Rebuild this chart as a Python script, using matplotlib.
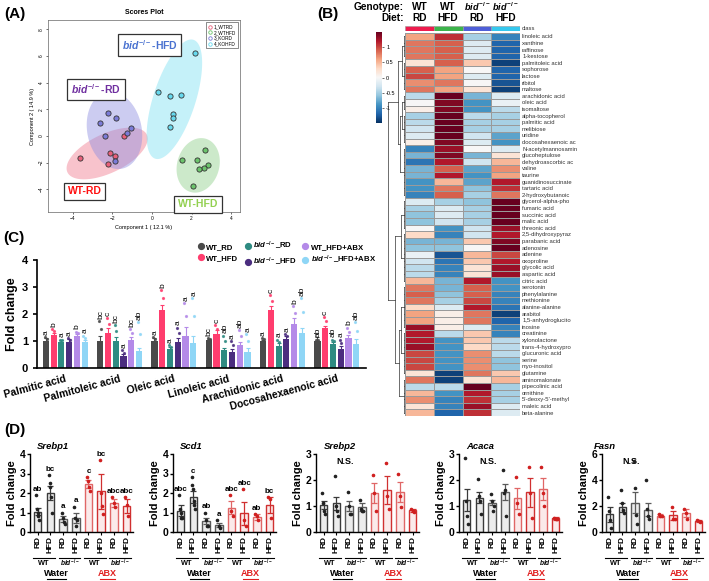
import numpy as np
import matplotlib
matplotlib.use('Agg')
import matplotlib.pyplot as plt
from matplotlib.patches import Polygon
from matplotlib.lines import Line2D
import matplotlib.transforms as mtrans

W, H = 709, 581
plt.rcParams['font.family'] = ['Liberation Sans', 'DejaVu Sans']
plt.rcParams['mathtext.fontset'] = 'custom'
plt.rcParams['mathtext.it'] = 'Liberation Sans:italic:bold'
plt.rcParams['mathtext.rm'] = 'Liberation Sans:bold'
plt.rcParams['mathtext.bf'] = 'Liberation Sans:bold'
BID = r'$\mathit{bid}^{-/-}$'

### (A) PLS-DA scores
wtrd_x = [-3.65, -2.14, -1.85, -2.24, -1.43]
wtrd_y = [-1.68, -1.30, -1.48, -2.10, 0.00]
wthfd_x = [2.68, 1.50, 2.27, 2.81, 2.64, 2.36, 2.10]
wthfd_y = [-1.05, -1.78, -1.78, -2.20, -2.38, -2.48, -3.75]
kord_x = [-2.24, -1.80, -2.60, -1.06, -1.26, -2.39, -1.89]
kord_y = [1.70, 1.38, 1.00, 0.58, 0.20, 0.00, -1.88]
kohfd_x = [2.17, 0.30, 0.93, 1.46, 1.08, 1.09, 0.91]
kohfd_y = [6.25, 3.28, 3.00, 3.08, 1.65, 1.33, 0.70]
score_names = ['1_WTRD', '2_WTHFD', '3_KORD', '4_KOHFD']

### (B) heatmap (z-scores: WT RD, WT HFD, bid RD, bid HFD)
metabolites = ['linoleic acid', 'xanthine', 'raffinose', '1-kestose', 'palmitoleic acid',
               'sophorose', 'lactose', 'ribitol', 'maltose', 'arachidonic acid', 'oleic acid',
               'isomaltose', 'alpha-tocopherol', 'palmitic acid', 'melibiose', 'uridine',
               'docosahexaenoic ac', 'N-acetylmannosamin', 'glucoheptulose', 'dehydroascorbic ac',
               'valine', 'taurine', 'guanidinosuccinate', 'tartaric acid', '2-hydroxybutanoic',
               'glycerol-alpha-pho', 'fumaric acid', 'succinic acid', 'malic acid', 'threonic acid',
               '2,5-dihydroxypyraz', 'parabanic acid', 'adenosine', 'adenine', 'oxoproline',
               'glycolic acid', 'aspartic acid', 'citric acid', 'serotonin', 'phenylalanine',
               'methionine', 'alanine-alanine', 'arabitol', '1,5-anhydroglucito', 'inosine',
               'creatinine', 'xylonolactone', 'trans-4-hydroxypro', 'glucuronic acid', 'serine',
               'myo-inositol', 'glutamine', 'aminomalonate', 'pipecolinic acid', 'ornithine',
               "5'-deoxy-5'-methyl", 'maleic acid', 'beta-alanine']
heat_vals = [
    [0.6, 1.1, -0.5, -1.0], [0.8, 0.9, -0.2, -1.2], [0.8, 0.9, -0.2, -1.2], [0.8, 0.9, -0.2, -1.2],
    [0.2, 0.9, 0.4, -1.4], [0.9, 0.6, 0.0, -1.2], [1.0, 0.6, -0.2, -1.2], [0.7, 0.8, 0.0, -1.3],
    [0.8, 0.6, 0.2, -1.4], [-0.4, 1.5, -0.7, -0.2], [0.0, 1.4, -0.9, -0.1], [0.1, 1.4, -0.9, -0.4],
    [-0.5, 1.5, -0.4, -0.5], [-0.4, 1.5, -0.5, -0.5], [-0.3, 1.5, -0.5, -0.5], [-0.2, 1.5, -0.3, -0.8],
    [0.1, 1.4, -0.2, -0.9], [-1.0, 1.3, 0.0, -0.2], [-0.7, 1.4, -0.7, 0.2], [-1.1, 1.2, -0.3, 0.5],
    [-0.7, 0.9, -0.8, 0.7], [-0.7, 1.2, -0.9, 0.6], [-0.9, 0.5, -0.8, 1.2], [-0.9, 0.8, -0.6, 1.1],
    [-1.0, 0.9, -0.5, 0.8], [-0.2, -0.5, -0.6, 1.5], [-0.5, -0.2, -0.5, 1.5], [-0.6, -0.2, -0.5, 1.5],
    [-0.6, -0.3, -0.5, 1.5], [0.0, -0.9, -0.3, 1.3], [0.3, -1.0, -0.3, 1.2], [-0.7, -0.7, 0.4, 1.4],
    [-0.6, -0.6, 0.0, 1.5], [-0.1, -1.3, 0.5, 1.0], [-0.3, -1.1, 0.4, 1.2], [-0.4, -1.0, 0.2, 1.3],
    [-0.4, -1.0, 0.2, 1.3], [0.5, -0.7, 1.2, -0.9], [0.8, -0.7, 0.9, -0.9], [0.9, -0.6, 0.9, -1.0],
    [0.8, -0.5, 1.0, -1.0], [0.3, -0.2, 1.2, -1.1], [0.6, 0.1, 0.8, -1.4], [0.6, 0.1, 0.8, -1.2],
    [1.3, 0.1, -0.2, -1.0], [1.2, -0.4, 0.4, -1.0], [1.2, -0.9, 0.4, -0.4], [1.3, -0.9, 0.3, -0.4],
    [1.0, -0.9, 0.7, -0.4], [1.0, -0.9, 0.7, -0.6], [1.0, -0.9, 0.7, -0.6], [0.2, -1.4, 0.8, 0.4],
    [0.8, -1.4, 0.2, 0.5], [-0.4, -0.4, 1.5, -0.5], [0.5, -0.9, 1.2, -0.5], [0.7, -1.0, 1.1, -0.5],
    [0.2, -1.0, 1.3, -0.2], [0.5, -1.2, 1.1, -0.2]]
class_colors = ['#ee1c4e', '#3cb44b', '#4f5fd8', '#35c8ee']
genotype_lbl = ['WT', 'WT', BID, BID]
diet_lbl = ['RD', 'HFD', 'RD', 'HFD']
# row clusters (first row, last row) and how they join
leaf_clusters = [(0, 3), (4, 8), (9, 11), (12, 16), (17, 24), (25, 29), (30, 37), (38, 44), (45, 51), (52, 57)]
dendro_tree = (((0, 1, 2.5), ((2, 3, 2.5), 4, 4), 6), ((5, 6, 3), ((7, 8, 3), 9, 4.5), 8), 14)

### (C) fatty acids
acids = ['Palmitic acid', 'Palmitoleic acid', 'Oleic acid', 'Linoleic acid',
         'Arachidonic acid', 'Docosahexaenoic acid']
fa_groups = ['WT_RD', 'WT_HFD', BID + '_RD', BID + '_HFD', 'WT_HFD+ABX', BID + '_HFD+ABX']
fa_colors = ['#4a4a4a', '#ff3d6e', '#2e8b82', '#4b2d7f', '#b48ae8', '#8fd6f6']
fa_mean = [[1.00, 1.22, 0.98, 0.98, 1.18, 0.95],
           [1.00, 1.30, 1.00, 0.45, 1.02, 0.63],
           [1.00, 2.15, 0.70, 0.97, 1.18, 0.92],
           [1.02, 1.25, 0.68, 0.60, 0.85, 0.58],
           [1.00, 2.15, 0.83, 1.07, 1.62, 1.30],
           [1.00, 1.47, 0.88, 0.72, 1.10, 0.88]]
fa_sem = [[0.10, 0.08, 0.05, 0.08, 0.07, 0.08],
          [0.20, 0.20, 0.13, 0.08, 0.12, 0.12],
          [0.10, 0.20, 0.07, 0.15, 0.35, 0.25],
          [0.05, 0.15, 0.07, 0.10, 0.12, 0.15],
          [0.05, 0.15, 0.08, 0.10, 0.25, 0.20],
          [0.15, 0.10, 0.07, 0.10, 0.12, 0.20]]
fa_max = [[1.15, 1.45, 1.05, 1.10, 1.35, 1.20],
          [1.75, 1.85, 1.60, 0.65, 1.45, 1.70],
          [1.15, 2.90, 0.85, 1.50, 2.40, 2.60],
          [1.10, 1.60, 1.20, 1.00, 1.40, 1.25],
          [1.10, 2.70, 1.05, 1.25, 2.30, 2.60],
          [1.05, 1.90, 1.05, 1.05, 1.50, 1.70]]
fa_letters = [['a', 'b', 'a', 'a', 'b', 'a'],
              ['bc', 'c', 'bc', 'a', 'bc', 'ab'],
              ['a', 'b', 'a', 'a', 'a', 'a'],
              ['bc', 'c', 'ab', 'a', 'ab', 'a'],
              ['a', 'c', 'a', 'a', 'b', 'ab'],
              ['ab', 'c', 'ab', 'a', 'b', 'ab']]

### (D) hepatic gene expression (Water: WT RD, WT HFD, bid RD, bid HFD | ABX: same)
srebp1_mean = [1.05, 2.0, 0.65, 0.72, 2.45, 2.1, 1.48, 1.32]
srebp1_sem = [0.2, 0.35, 0.15, 0.25, 0.2, 0.9, 0.2, 0.35]
srebp1_pts = [[1.9, 1.2, 1.0, 0.8, 0.6], [2.9, 2.5, 2.3, 1.8, 1.0], [1.0, 0.7, 0.5, 0.4], [1.3, 0.7, 0.3, 0.6],
              [2.8, 2.6, 2.3, 2.1], [3.7, 2.0, 1.35, 0.9], [1.8, 1.5, 1.3], [1.8, 1.4, 0.8]]
srebp1_let = ['ab', 'bc', 'a', 'a', 'c', 'bc', 'abc', 'abc']
scd1_mean = [1.1, 1.8, 0.55, 0.35, 1.25, 0.95, 0.75, 1.38]
scd1_sem = [0.3, 0.3, 0.15, 0.1, 0.35, 0.6, 0.15, 0.4]
scd1_pts = [[1.9, 1.2, 1.0, 0.7, 0.7], [2.8, 2.4, 2.2, 1.6, 1.4, 1.2], [1.0, 0.6, 0.3, 0.3], [0.6, 0.3, 0.2],
            [1.9, 1.1, 0.8], [2.2, 0.6, 0.3], [0.9, 0.8, 0.6], [1.8, 1.7, 0.7]]
scd1_let = ['abc', 'c', 'ab', 'a', 'abc', 'abc', 'ab', 'bc']
srebp2_mean = [1.03, 1.1, 1.0, 0.95, 1.5, 1.62, 1.53, 0.83]
srebp2_sem = [0.15, 0.25, 0.2, 0.15, 0.38, 0.55, 0.38, 0.05]
srebp2_pts = [[1.5, 1.1, 0.8, 0.7], [2.15, 1.0, 0.8, 0.6], [1.55, 1.0, 0.7, 0.7], [1.25, 0.9, 0.8, 0.8],
              [2.2, 1.5, 0.8], [2.65, 1.4, 0.9], [2.25, 1.4, 0.95], [0.9, 0.82, 0.78]]
acaca_mean = [1.22, 1.32, 1.13, 1.55, 1.3, 1.52, 1.65, 0.52]
acaca_sem = [0.42, 0.2, 0.1, 0.3, 0.4, 0.55, 0.42, 0.05]
acaca_pts = [[2.85, 1.2, 0.6, 0.3], [2.05, 1.4, 1.2, 0.7], [1.45, 1.2, 0.8, 1.0], [2.4, 1.5, 1.6, 0.6],
             [2.1, 1.1, 0.7], [2.5, 1.5, 0.55], [2.5, 1.5, 1.0], [0.55, 0.5, 0.5]]
fasn_mean = [1.35, 1.9, 2.25, 1.7, 1.25, 1.3, 1.45, 0.85]
fasn_sem = [0.6, 0.35, 0.8, 0.5, 0.1, 0.35, 0.3, 0.1]
fasn_pts = [[2.7, 1.6, 0.9, 0.3], [3.2, 2.2, 1.7, 1.5], [5.5, 3.4, 1.3, 0.6], [4.0, 1.8, 1.2, 1.0],
            [1.35, 1.25, 1.2], [1.9, 1.0, 1.0], [1.8, 1.5, 1.0], [0.9, 0.85, 0.8]]
gene_names = ['Srebp1', 'Scd1', 'Srebp2', 'Acaca', 'Fasn']
gene_ymax = [4, 4, 3, 3, 6]
gene_ystep = [1, 1, 1, 1, 2]


fig = plt.figure(figsize=(W / 100, H / 100), dpi=100)


def add_ax(x0, y0, x1, y1):
    return fig.add_axes([x0 / W, 1 - y1 / H, (x1 - x0) / W, (y1 - y0) / H])


def ftext(x, y, s, **kw):
    fig.text(x / W, 1 - y / H, s, **kw)


ftext(4, 14, '(A)', fontsize=11, weight='bold', va='center')
ftext(317, 14, '(B)', fontsize=11, weight='bold', va='center')
ftext(3, 238, '(C)', fontsize=11, weight='bold', va='center')
ftext(4, 430, '(D)', fontsize=11, weight='bold', va='center')

# ---------------- (A)
axA = add_ax(48, 20, 240, 212)


def conf_ellipse(x, y, n=120):
    x, y = np.asarray(x), np.asarray(y)
    vals, vecs = np.linalg.eigh(np.cov(x, y))
    t = np.linspace(0, 2 * np.pi, n)
    circ = np.vstack([np.cos(t), np.sin(t)]) * np.sqrt(vals[:, None] * 5.991)
    p = vecs @ circ
    return np.column_stack([p[0] + x.mean(), p[1] + y.mean()])


sets = [(wtrd_x, wtrd_y, '#f07a8e', '#e8607a'), (wthfd_x, wthfd_y, '#8fd08a', '#6cc46c'),
        (kord_x, kord_y, '#8e8ee0', '#7b7bd8'), (kohfd_x, kohfd_y, '#7fe0f2', '#66d9ee')]
for xs, ys, ec, pc in sets:
    axA.add_patch(Polygon(conf_ellipse(xs, ys), closed=True, fc=ec, ec='none', alpha=0.45, zorder=1))
for xs, ys, ec, pc in sets:
    axA.scatter(xs, ys, s=14, c=pc, edgecolors='#333333', linewidths=0.6, zorder=3)
axA.set_xlim(-5.25, 4.45)
axA.set_ylim(-5.7, 8.7)
axA.set_xticks([-4, -2, 0, 2, 4])
axA.set_yticks([-4, -2, 0, 2, 4, 6, 8])
axA.tick_params(labelsize=3.5, length=1.5, width=0.4, pad=1.5)
plt.setp(axA.get_yticklabels(), rotation=90, va='center')
for s in axA.spines.values():
    s.set_linewidth(0.5)
    s.set_color('#666666')
axA.set_title('Scores Plot', fontsize=5, weight='bold', pad=4)
axA.set_xlabel('Component 1 ( 12.1 %)', fontsize=4, labelpad=3)
axA.set_ylabel('Component 2 ( 14.9 %)', fontsize=4, labelpad=3)
handles = [Line2D([], [], marker='o', ls='', mfc='none', mec=c[3], ms=2.5, mew=0.6) for c in sets]
axA.legend(handles, score_names, loc='upper right', fontsize=3.4, frameon=True, fancybox=False,
           edgecolor='black', borderpad=0.4, handletextpad=0.2, labelspacing=0.15,
           handlelength=1).get_frame().set_linewidth(0.4)
boxkw = dict(boxstyle='square,pad=0.35', fc='white', ec='#333333', lw=0.9)
axA.text(0.53, 0.87, BID + '-HFD', transform=axA.transAxes, ha='center', va='center',
         fontsize=7.5, weight='bold', color='#4a72d0', bbox=boxkw, zorder=5)
axA.text(0.25, 0.64, BID + '-RD', transform=axA.transAxes, ha='center', va='center',
         fontsize=7.5, weight='bold', color='#7030a0', bbox=boxkw, zorder=5)
axA.text(0.19, 0.107, 'WT-RD', transform=axA.transAxes, ha='center', va='center',
         fontsize=7.5, weight='bold', color='#ff1010', bbox=boxkw, zorder=5)
axA.text(0.78, 0.04, 'WT-HFD', transform=axA.transAxes, ha='center', va='center',
         fontsize=7.5, weight='bold', color='#92d050', bbox=boxkw, zorder=5, clip_on=False)

# ---------------- (B)
hm = np.array(heat_vals)
nrow = len(metabolites)
axH = add_ax(405, 33, 520, 416)
mesh = axH.pcolormesh(hm, cmap='RdBu_r', vmin=-1.5, vmax=1.5, edgecolors='#9a9a9a', linewidth=0.4)
axH.set_ylim(nrow, 0)
axH.set_xlim(0, 4)
axH.set_xticks([])
axH.yaxis.tick_right()
axH.set_yticks(np.arange(nrow) + 0.5)
axH.set_yticklabels(metabolites, fontsize=4.2, color='#333333')
axH.tick_params(axis='y', length=0, pad=1.5)
for s in axH.spines.values():
    s.set_visible(False)

axCl = add_ax(405, 26, 520, 31)
axCl.bar(np.arange(4), 1, width=1, align='edge', color=class_colors, edgecolor='#9a9a9a', linewidth=0.4)
axCl.set_xlim(0, 4)
axCl.set_ylim(0, 1)
axCl.axis('off')
ftext(522, 28.5, 'class', fontsize=4.2, color='#333333', va='center')

ftext(404, 7, 'Genotype:', fontsize=7.3, weight='bold', ha='right', va='center')
ftext(404, 18, 'Diet:', fontsize=7.3, weight='bold', ha='right', va='center')
for i in range(4):
    cx = 405 + (i + 0.5) * 115 / 4
    ftext(cx, 7, genotype_lbl[i], fontsize=7.3 if i < 2 else 6.6, weight='bold', ha='center', va='center')
    ftext(cx, 18, diet_lbl[i], fontsize=7.3, weight='bold', ha='center', va='center')

cax = add_ax(376, 32, 382, 123)
cb = fig.colorbar(mesh, cax=cax, ticks=[-1, -0.5, 0, 0.5, 1])
cb.ax.set_yticklabels(['-1', '-0.5', '0', '0.5', '1'])
cb.ax.tick_params(labelsize=4, length=1.5, width=0.4, pad=1.5)
cb.outline.set_visible(False)

axD = add_ax(385, 33, 405, 416)
axD.set_ylim(nrow, 0)
axD.set_xlim(16, 0)
axD.axis('off')
dkw = dict(color='#333333', lw=0.5)


def draw_node(node):
    if isinstance(node, int):
        lo, hi = leaf_clusters[node]
        for r in range(lo, hi + 1):
            axD.plot([0, 1], [r + 0.5, r + 0.5], **dkw)
        axD.plot([1, 1], [lo + 0.5, hi + 0.5], **dkw)
        return (lo + hi + 1) / 2, 1
    left, right, depth = node
    ya, da = draw_node(left)
    yb, db = draw_node(right)
    axD.plot([da, depth], [ya, ya], **dkw)
    axD.plot([db, depth], [yb, yb], **dkw)
    axD.plot([depth, depth], [ya, yb], **dkw)
    return (ya + yb) / 2, depth


draw_node(dendro_tree)

# ---------------- (C)
axC = add_ax(37, 260, 366, 368)
nser = len(fa_groups)
for g in range(len(acids)):
    for k in range(nser):
        x = g * 7 + k
        m, e, top = fa_mean[g][k], fa_sem[g][k], fa_max[g][k]
        axC.bar(x, m, width=0.8, color=fa_colors[k], edgecolor='none', zorder=2)
        axC.errorbar(x, m, yerr=e, color=fa_colors[k], capsize=1.5, elinewidth=0.8, capthick=0.8, zorder=3)
        axC.plot([x - 0.15, x + 0.1], [top, m + 0.6 * (top - m)], ls='', marker='o', ms=1.3,
                 color=fa_colors[k], alpha=0.8, zorder=4)
        axC.text(x + 0.05, top + 0.08, fa_letters[g][k], rotation=90, ha='center', va='bottom',
                 fontsize=6)
axC.set_xlim(-1.14, 41.26)
axC.set_ylim(0, 4)
axC.set_yticks([0, 1, 2, 3, 4])
axC.set_xticks([g * 7 + 2.5 for g in range(len(acids))])
axC.set_xticklabels(acids, rotation=15, ha='right', rotation_mode='anchor', fontsize=7.5, weight='bold')
axC.tick_params(axis='x', length=0, pad=4)
axC.tick_params(axis='y', labelsize=8, width=1.2, length=3)
for t in axC.get_yticklabels():
    t.set_fontweight('bold')
axC.set_ylabel('Fold change', fontsize=9, weight='bold', labelpad=3)
for s in ['top', 'right']:
    axC.spines[s].set_visible(False)
for s in ['left', 'bottom']:
    axC.spines[s].set_linewidth(1.2)
leg_h = [Line2D([], [], marker='o', ls='', color=c, ms=4.2) for c in fa_colors]
fig.legend(leg_h, fa_groups, loc='upper left', bbox_to_anchor=(194 / W, 1 - 237 / H), ncol=3,
           frameon=False, prop={'size': 5.6, 'weight': 'bold'}, handletextpad=0.1,
           columnspacing=0.6, labelspacing=0.45, handlelength=1.1, borderaxespad=0)

# ---------------- (D)
gene_means = [srebp1_mean, scd1_mean, srebp2_mean, acaca_mean, fasn_mean]
gene_sems = [srebp1_sem, scd1_sem, srebp2_sem, acaca_sem, fasn_sem]
gene_pts = [srebp1_pts, scd1_pts, srebp2_pts, acaca_pts, fasn_pts]
gene_lets = [srebp1_let, scd1_let, None, None, None]
title_x = [0.07, 0.07, 0.08, 0.07, -0.08]
edge_cols = ['#3a3a3a', '#3a3a3a', '#5a5a5a', '#5a5a5a', '#e06666', '#d03030', '#e06666', '#d03030']
fill_cols = ['#ececec'] * 4 + ['#fbeaea'] * 4
pair_lbl = ['WT', BID, 'WT', BID]
for i, gname in enumerate(gene_names):
    x0 = 30 + 143 * i
    ax = add_ax(x0, 454, x0 + 103, 532)
    means, sems, pts = gene_means[i], gene_sems[i], gene_pts[i]
    for j in range(8):
        ax.bar(j, means[j], width=0.6, color=fill_cols[j], edgecolor=edge_cols[j], linewidth=1.0, zorder=2)
        ax.errorbar(j, means[j], yerr=sems[j], color=edge_cols[j], capsize=2, elinewidth=0.9,
                    capthick=0.9, zorder=3)
        p = pts[j]
        xs = j + np.linspace(-0.12, 0.12, len(p))
        ax.plot(xs, p, ls='', marker='o', ms=1.6, color=('#222222' if j < 4 else '#d02020'), zorder=4)
        if gene_lets[i] is not None:
            top = max(max(p), means[j] + sems[j])
            ax.text(j, top + 0.12 * gene_ymax[i] / 4, gene_lets[i][j], ha='center', va='bottom',
                    fontsize=5.8, weight='bold')
    if gene_lets[i] is None:
        ax.text(0.28, 0.9, 'N.S.', transform=ax.transAxes, ha='center', va='center', fontsize=6.5,
                weight='bold')
    ax.set_xlim(-0.6, 7.5)
    ax.set_ylim(0, gene_ymax[i])
    ax.set_yticks(np.arange(0, gene_ymax[i] + 0.1, gene_ystep[i]))
    ax.set_xticks(range(8))
    ax.set_xticklabels(['RD', 'HFD'] * 4, rotation=90, fontsize=6.0, weight='bold')
    ax.tick_params(axis='x', length=2, width=0.8, pad=1)
    ax.tick_params(axis='y', labelsize=7.5, width=1.0, length=2.5, pad=1)
    for t in ax.get_yticklabels():
        t.set_fontweight('bold')
    ax.set_ylabel('Fold change', fontsize=8, weight='bold', labelpad=2)
    for s in ['top', 'right']:
        ax.spines[s].set_visible(False)
    for s in ['left', 'bottom']:
        ax.spines[s].set_linewidth(1.0)
    ax.text(title_x[i], 1.1, gname, transform=ax.transAxes, fontsize=6.8, weight='bold',
            style='italic', va='center')
    tr = mtrans.blended_transform_factory(ax.transData, ax.transAxes)
    for q in range(4):
        ax.plot([2 * q - 0.35, 2 * q + 1.35], [-0.33, -0.33], transform=tr, color='black', lw=0.8,
                clip_on=False)
        ax.text(2 * q + 0.5, -0.405, pair_lbl[q], transform=tr, ha='center', va='center',
                fontsize=5.3 if q % 2 == 0 else 4.8, weight='bold')
    for lbl, xc, col in [('Water', 1.5, 'black'), ('ABX', 5.5, '#e02020')]:
        ax.text(xc, -0.535, lbl, transform=tr, ha='center', va='center', fontsize=6.5, weight='bold',
                color=col)
        half = 0.75 if lbl == 'Water' else 0.6
        ax.plot([xc - half, xc + half], [-0.605, -0.605], transform=tr, color=col, lw=0.8, clip_on=False)

fig.savefig('out.png', dpi=100)
